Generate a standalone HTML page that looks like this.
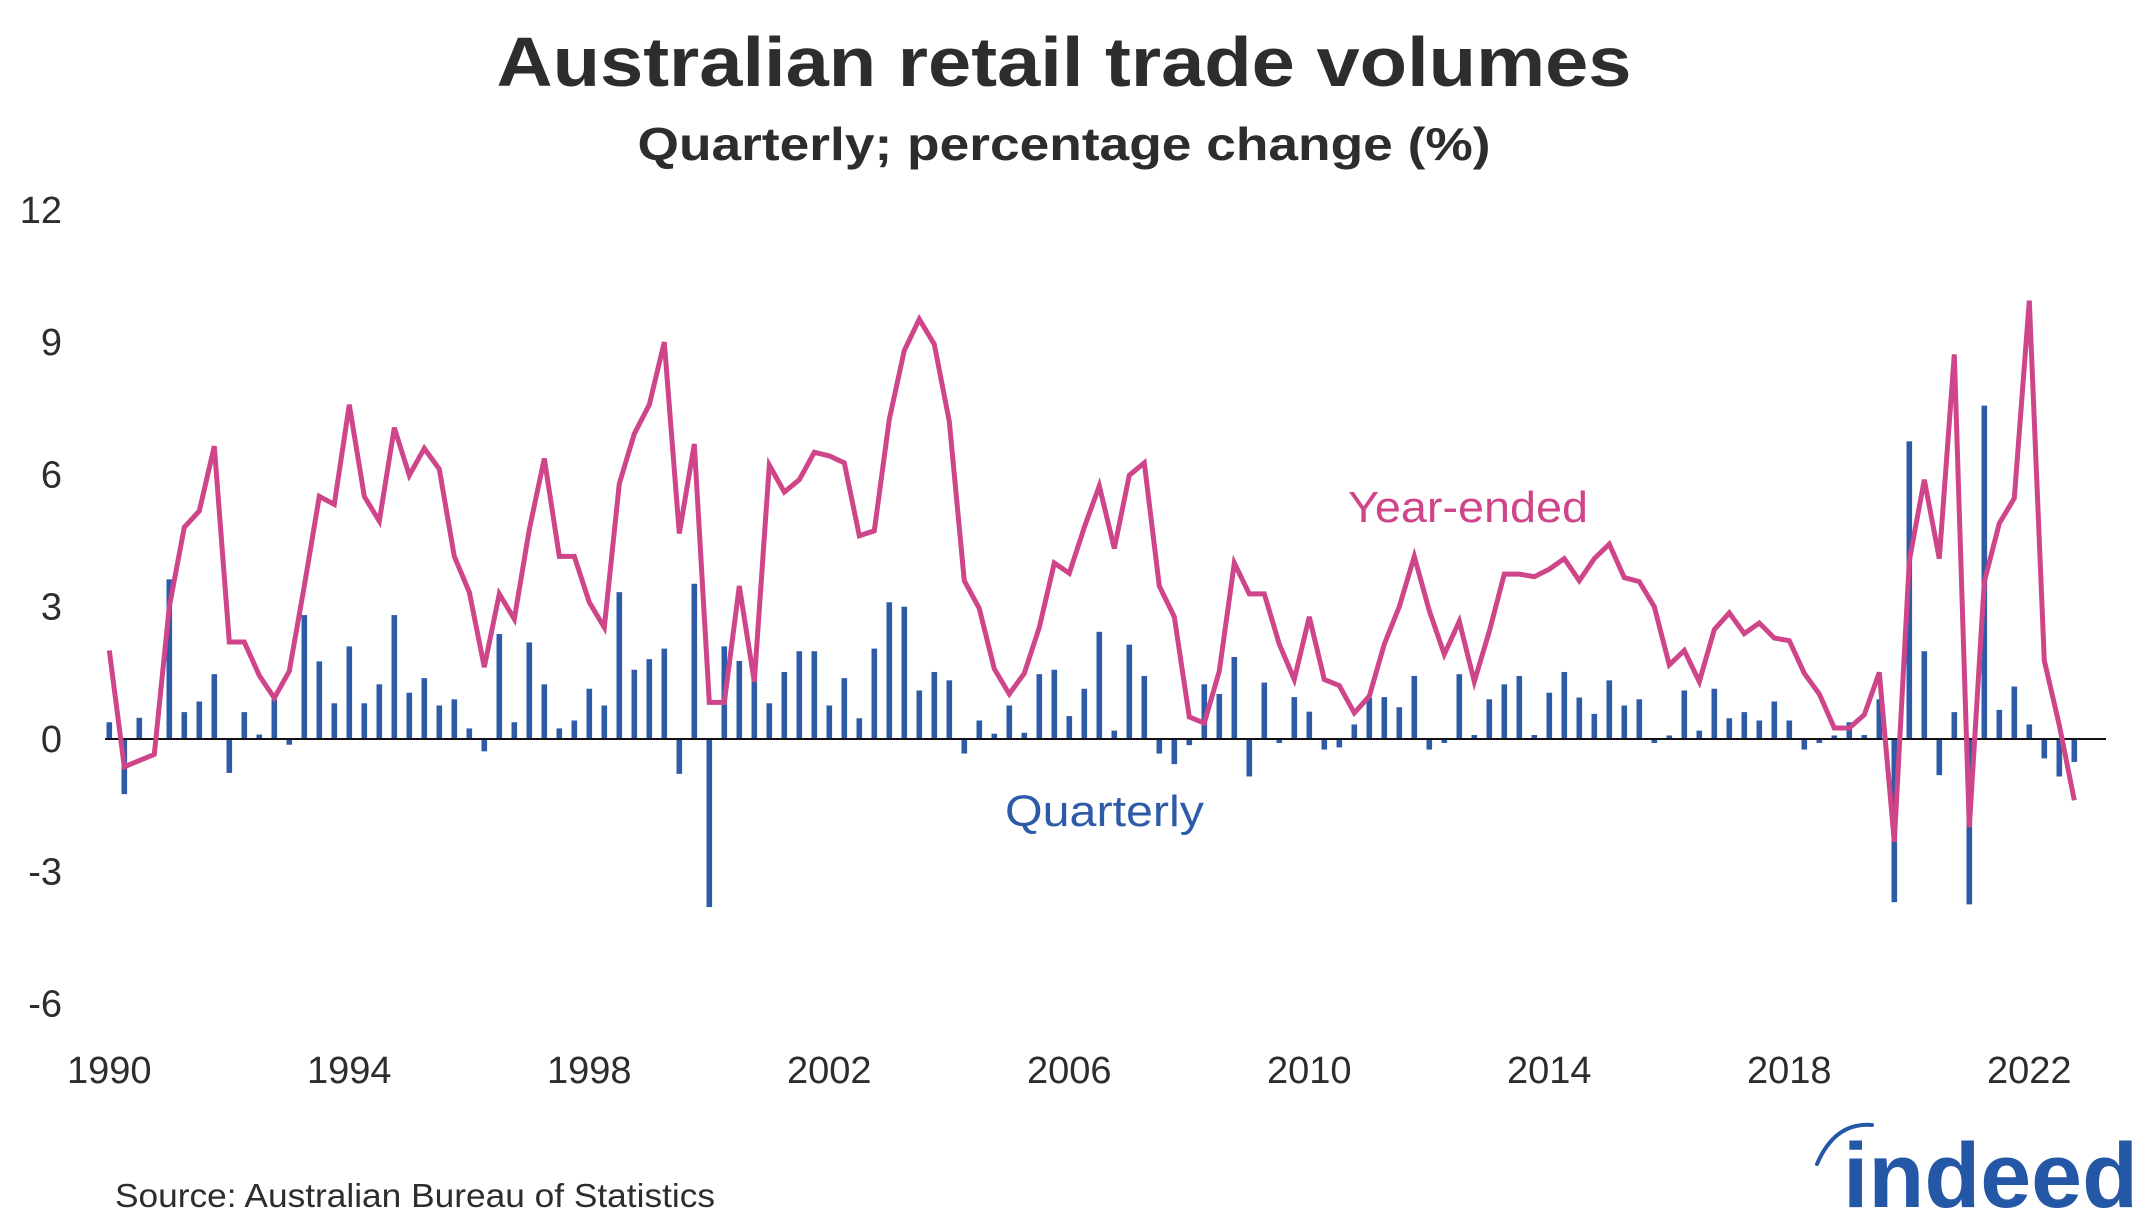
<!DOCTYPE html>
<html><head><meta charset="utf-8">
<style>
html,body{margin:0;padding:0;background:#fff;}
svg{display:block;font-family:"Liberation Sans",sans-serif;}
</style></head>
<body>
<svg id="chart" width="2145" height="1216" viewBox="0 0 2145 1216" xmlns="http://www.w3.org/2000/svg">
<rect x="0" y="0" width="2145" height="1216" fill="#fff"/>
<text x="1064" y="86" text-anchor="middle" font-size="70" font-weight="bold" fill="#2d2d2d" textLength="1135" lengthAdjust="spacingAndGlyphs">Australian retail trade volumes</text>
<text x="1064" y="160" text-anchor="middle" font-size="46" font-weight="bold" fill="#2d2d2d" textLength="853" lengthAdjust="spacingAndGlyphs">Quarterly; percentage change (%)</text>
<g id="yaxis"></g>
<g id="xaxis"></g>
<g id="bars"></g>
<line x1="105" x2="2106" y1="739" y2="739" stroke="#111" stroke-width="2"/>
<polyline id="yearLine" fill="none" stroke="#cf4589" stroke-width="5" stroke-linejoin="miter"/>
<text x="1348" y="522" font-size="44" fill="#cf4589" textLength="240" lengthAdjust="spacingAndGlyphs">Year-ended</text>
<text x="1005" y="826" font-size="44" fill="#2d5ba8" textLength="199" lengthAdjust="spacingAndGlyphs">Quarterly</text>
<text x="115" y="1207" font-size="33" fill="#2d2d2d" textLength="600" lengthAdjust="spacingAndGlyphs">Source: Australian Bureau of Statistics</text>
<g>
<path d="M1817,1164 Q1835,1122 1872,1125" fill="none" stroke="#2557a7" stroke-width="4" stroke-linecap="round"/>
<text x="1843" y="1207" font-size="92" font-weight="bold" fill="#2557a7" textLength="295" lengthAdjust="spacingAndGlyphs">indeed</text>
</g>
</svg>
<script>
const quarterly = [0.38,-1.25,0.48,0.0,3.62,0.61,0.85,1.47,-0.77,0.61,0.1,0.9,-0.13,2.81,1.76,0.81,2.1,0.81,1.24,2.81,1.05,1.38,0.76,0.9,0.24,-0.28,2.38,0.38,2.19,1.24,0.24,0.42,1.14,0.76,
3.33,1.57,1.81,2.05,-0.79,3.52,-3.81,2.1,1.77,1.35,0.81,1.52,1.99,1.99,0.76,1.38,0.47,2.05,3.1,3.0,1.1,1.52,1.33,-0.33,0.42,0.12,0.76,0.14,1.47,1.57,0.52,1.14,2.43,
0.19,2.14,1.43,-0.33,-0.57,-0.14,1.24,1.02,1.86,-0.85,1.28,-0.09,0.95,0.62,-0.24,-0.19,0.33,0.93,0.95,0.72,1.43,-0.24,-0.09,1.47,0.09,0.9,1.24,1.43,0.09,1.05,1.52,0.94,0.57,1.33,
0.76,0.9,-0.09,0.08,1.1,0.19,1.14,0.47,0.61,0.42,0.85,0.42,-0.24,-0.09,0.08,0.38,0.09,0.9,-3.7,6.75,1.99,-0.82,0.61,-3.75,7.56,0.66,1.19,0.33,-0.44,-0.85,-0.52];
const yearEnded = [2.01,-0.63,-0.49,-0.35,3.0,4.8,5.17,6.64,2.2,2.2,1.44,0.93,1.54,3.47,5.5,5.32,7.58,5.5,4.94,7.06,5.98,6.59,6.12,4.14,3.33,1.63,3.29,2.72,4.75,6.36,4.14,4.14,3.1,2.53,
5.79,6.92,7.58,9.0,4.66,6.69,0.83,0.83,3.47,1.3,6.21,5.6,5.88,6.5,6.42,6.26,4.61,4.72,7.25,8.81,9.52,8.95,7.2,3.59,2.96,1.59,1.02,1.49,2.53,3.99,3.76,4.8,5.74,
4.32,5.98,6.26,3.47,2.77,0.5,0.36,1.54,3.99,3.29,3.29,2.15,1.35,2.77,1.35,1.21,0.59,0.97,2.15,3.0,4.14,2.91,1.92,2.67,1.3,2.44,3.74,3.74,3.68,3.85,4.09,3.59,4.09,4.42,
3.66,3.57,3.0,1.68,2.01,1.3,2.48,2.86,2.39,2.63,2.29,2.23,1.49,1.02,0.25,0.25,0.55,1.51,-2.33,4.04,5.88,4.09,8.72,-2.0,3.57,4.89,5.46,9.94,1.78,0.31,-1.39];
const yTicks = [12,9,6,3,0,-3,-6];
const yTickLabels = ["12","9","6","3","0","-3","-6"];
const xTicks = [1990,1994,1998,2002,2006,2010,2014,2018,2022];
const xTickLabels = ["1990","1994","1998","2002","2006","2010","2014","2018","2022"];
const startYear = 1990;

const NS = "http://www.w3.org/2000/svg";
function yScale(v){ return 739 - v*44.1; }
function xScaleIndex(i){ return 109.3 + i*15.0; }
function xScaleYear(y){ return 109.3 + (y-startYear)*60.0; }

const yax = document.getElementById('yaxis');
yTicks.forEach((t,k)=>{
  const el = document.createElementNS(NS,'text');
  
  
  el.setAttribute('x', 62);
  el.setAttribute('y', yScale(t)+13);
  el.setAttribute('text-anchor','end');
  el.setAttribute('font-size','38');
  el.setAttribute('fill','#2d2d2d');
  el.textContent = yTickLabels[k];
  yax.appendChild(el);
});
const xax = document.getElementById('xaxis');
xTicks.forEach((t,k)=>{
  const el = document.createElementNS(NS,'text');
  
  
  el.setAttribute('x', xScaleYear(t));
  el.setAttribute('y', 1083);
  el.setAttribute('text-anchor','middle');
  el.setAttribute('font-size','38');
  el.setAttribute('fill','#2d2d2d');
  el.textContent = xTickLabels[k];
  xax.appendChild(el);
});
const bars = document.getElementById('bars');
quarterly.forEach((v,i)=>{
  const r = document.createElementNS(NS,'rect');
  
  
  const y0 = yScale(0), y1 = yScale(v);
  r.setAttribute('x', xScaleIndex(i)-2.8);
  r.setAttribute('width', 5.6);
  r.setAttribute('y', Math.min(y0,y1));
  r.setAttribute('height', Math.max(Math.abs(y1-y0),1));
  r.setAttribute('fill','#2d5ba8');
  bars.appendChild(r);
});
document.getElementById('yearLine').setAttribute('points',
  yearEnded.map((v,i)=>xScaleIndex(i).toFixed(1)+','+yScale(v).toFixed(1)).join(' '));
</script>
</body></html>
